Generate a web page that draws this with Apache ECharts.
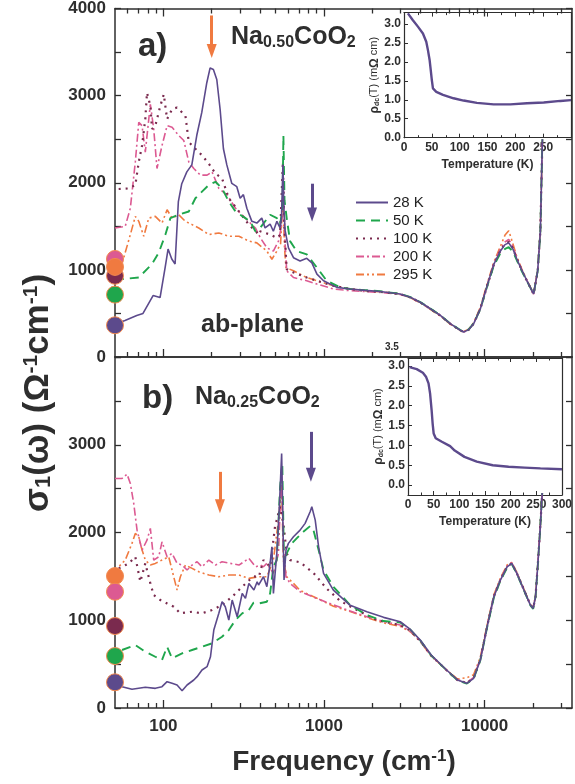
<!DOCTYPE html>
<html><head><meta charset="utf-8">
<script src="https://cdn.jsdelivr.net/npm/echarts@6/dist/echarts.min.js"></script>
<style>html,body{margin:0;padding:0;background:#fff}#c{width:575px;height:784px}</style>
</head><body><div id="c"></div>
<script>
const FF = '"Liberation Sans", Arial, Helvetica, sans-serif';
const names = ['28 K', '50 K', '100 K', '200 K', '295 K'];
const colors = ['#5c4a8c', '#1fa64c', '#7a2a4e', '#dc5a92', '#f07a40'];

// ---- panel a) Na0.50CoO2 : frequency (cm-1) / sigma1 (Ohm-1 cm-1)
const top28F = [50,53.7,57.7,68.3,74.7,86.3,95.4,102.5,107,112.8,118.3,124,130.2,140,150.4,161.5,173.5,186.4,195.5,204.9,215.1,225.6,236.6,248.4,266.8,286.6,300.6,315,331,355.6,382,410,430,462,484,509,533,544,555,563,573,601,646,710,781,841,904,994,1203,1455];
const top28V = [364,400,420,477,500,705,682,1023,1239,1125,1068,1784,1989,2125,2205,2545,2807,3148,3318,3300,3185,2844,2390,2205,1992,1955,1822,1864,1708,1557,1537,1594,1481,1526,1443,1557,1481,1600,2205,1700,1450,1253,1140,1102,1133,1080,951,875,799,781];
const top50F = [50,55.3,70.3,85,93.6,103,110.6,124.7,144,158.3,174,191.9,211,232,255.6,281,324,347,374,400,462,509,533,551,559,568,586,615,676,781,904,1040,1261,1455];
const top50V = [912,894,912,1068,1197,1405,1594,1633,1670,1822,1898,1974,2011,1935,1784,1670,1594,1557,1443,1481,1633,1594,1520,1700,2542,1800,1594,1330,1216,1178,1026,875,799,781];
const top100F = [52.7,60.9,66.9,70.3,73.7,77.2,79.1,83,85,89.1,95.8,100.6,105.5,113.3,121.7,130.8,137.2,144,158.3,174,191.9,211,232,255.6,295.5,340.7,393.5,400,462,509,533,555,566,586,646,781,904,1144,1455];
const top100V = [1928,1935,1974,2239,2428,2731,3034,2883,2617,2655,2883,3015,2731,2844,2864,2807,2769,2466,2390,2315,2219,2106,2049,1822,1670,1519,1405,1443,1405,1367,1400,2239,1500,1008,970,912,875,818,781];
const top200F = [50,57.9,62.3,66.9,70.3,73.7,77.2,83,87.1,91.3,98.1,105.5,113.3,124.7,134,144,154.7,170.1,187.1,201,221.5,249.4,281,324,374,402,441,484,521,543,559,573,586,646,781,904,1144,1455];
const top200V = [1481,1500,1708,2239,2693,2655,2352,2901,2617,2163,2428,2655,2636,2542,2485,2239,2163,2087,2087,2125,1935,1860,1708,1594,1481,1367,1253,1216,1330,1500,1974,1300,989,912,875,837,781,761];
const top295F = [50,53.7,56.7,62.3,66.9,70.3,75.5,81.1,89.1,98.1,105.5,113.3,124.7,137.2,151,166.1,191.9,221.5,255.6,295.5,340.7,382,441,474,509,537,555,568,580,646,781,904,1144,1455];
const top295V = [1034,1026,1140,1405,1614,1557,1386,1594,1614,1537,1690,1594,1633,1557,1519,1481,1405,1424,1386,1386,1330,1310,1216,1122,1216,1300,1860,1250,1026,989,912,875,818,781];
const hfTopF = [1800,2240,2980,3450,3975,4375,5300,6110,7060,7410,7960,8550,9410,10370,11420,12540,13400,14130,15000,15880,17000,18350,20190,21400,22240,22900];
const hfTop28 = [765,752,724,685,628,580,477,383,307,288,314,383,553,818,1065,1216,1290,1310,1240,1122,1000,875,724,989,1443,2500];
const hfTop50 = [768,754,726,687,630,582,479,385,309,290,316,385,550,810,1050,1190,1240,1260,1210,1110,990,870,724,985,1440,2500];
const hfTop100 = [758,748,722,684,627,579,476,382,306,287,313,382,552,815,1060,1220,1300,1320,1250,1125,1000,872,720,985,1440,2500];
const hfTop200 = [752,742,718,682,625,578,475,380,305,286,312,385,560,825,1075,1240,1320,1350,1270,1135,1005,878,722,990,1445,2500];
const hfTop295 = [760,748,724,682,622,574,470,378,302,292,320,395,570,840,1090,1270,1400,1450,1300,1150,1015,880,730,995,1450,2500];
const dcTop = [364, 716, 932, 1125, 1034];

// ---- panel b) Na0.25CoO2
const bot28F = [50,55.3,63.8,77.2,89.1,98.1,105.5,113.3,121.7,130.8,140.5,154.7,162.2,174,187.1,196.5,206.1,221.5,232,243,255.6,268.2,288.1,309.7,324.4,340.7,366.3,383.8,391.3,420,441,462,474,484.4,508.5,528.6,545,558.6,564,580,600.6,645.6,710,763,820,840,882,926,994,1144,1455,1850,2350,2983];
const bot28V = [280,243,213,236,224,243,300,281,262,197,262,319,357,433,471,584,888,1079,1211,1154,1002,1230,1040,1306,1249,1420,1344,1439,1401,1496,1382,1648,1837,1306,1762,2331,2901,1837,1458,1800,1876,1951,2027,2104,2236,2293,2141,1837,1534,1344,1170,1097,1033,983];
const bot50F = [55.3,66.9,77.2,89.1,98.1,105.5,113.3,130.8,151,174,201,232,255.6,281,309.7,340.7,364,393.5,441,462,484,508,533,550,564,586,630,676,744,820,860,926,994,1144,1455,1850,2350,2983];
const bot50V = [661,718,641,584,547,698,566,623,661,698,737,812,888,1002,1079,1116,1200,1192,1211,1306,1609,1686,2521,2787,1648,1762,1876,1933,2008,2073,2027,1800,1572,1382,1173,1059,991,975];
const bot100F = [52.7,60.9,66.9,71.9,77.2,83,87.1,95.8,105.5,116,127.6,151,174,201,232,268.2,309.7,364,393.5,420,462,495.5,533,558.6,586,615,710,860,1040,1261,1680,2136,2983];
const bot100V = [1591,1648,1723,1439,1648,1420,1287,1230,1192,1154,1079,1097,1079,1116,1173,1268,1382,1500,1496,1686,1609,2065,2293,2104,1762,1686,1660,1540,1360,1220,1097,1002,945];
const bot200F = [50,55.3,59.4,62.3,65.4,68.6,73.7,79.1,83,87.1,93.6,98.1,105.5,113.3,121.7,130.8,140.5,151,162.2,174,191.9,211,232,261.8,295.5,340.7,374.6,401.7,420,441,484.4,520.8,545,558.6,580,615,710,904,1144,1455,1850,2350,2983];
const bot200V = [2616,2616,2665,2559,2331,2027,1800,1913,2047,1686,1723,1894,1723,1762,1648,1629,1572,1629,1667,1609,1686,1629,1667,1648,1629,1705,1609,1629,1609,1648,1534,1762,2711,1837,1496,1420,1325,1249,1175,1105,1040,985,945];
const bot295F = [50,52.7,57.9,63.8,66.9,70.3,73.7,77.2,83,89.1,98.1,108,116,121.7,127.6,137.2,151,166.1,191.9,221.5,255.6,295.5,340.7,393.5,441,484.4,520.8,545,558.6,586,645.6,710,904,1144,1455,1850,2350,2983];
const bot295V = [1503,1609,1686,1876,1990,1951,1800,1686,1629,1648,1686,1723,1496,1344,1496,1629,1591,1553,1515,1496,1515,1515,1477,1496,1496,1686,2141,2521,1686,1496,1420,1340,1250,1160,1100,1030,970,930];
const hfBotF = [3450,3975,4650,5800,6780,7750,8550,9410,10370,11420,12540,13810,14750,15880,17580,19280,20060,20750,21470,22150,22840];
const hfBot28 = [895,774,604,433,319,281,338,547,926,1268,1458,1609,1648,1534,1344,1173,1135,1268,1648,2027,2450];
const hfBot50 = [892,770,600,430,316,278,335,545,920,1260,1450,1600,1640,1530,1340,1170,1130,1265,1645,2025,2450];
const hfBot100 = [880,765,598,430,318,284,342,552,930,1270,1460,1610,1650,1536,1346,1175,1138,1270,1650,2030,2450];
const hfBot200 = [872,760,595,432,322,290,350,560,940,1280,1470,1620,1655,1540,1350,1178,1140,1272,1652,2030,2450];
const hfBot295 = [869,758,592,435,330,345,380,580,950,1290,1480,1630,1660,1545,1352,1180,1142,1275,1655,2035,2450];
const dcBot = [293, 592, 934, 1325, 1503];

// arrows: [frequency, start value, end value]
const arrowsTop = [[200, 3920, 3511, '#f07a40'], [843, 1989, 1636, '#5c4a8c']];
const arrowsBot = [[225, 2691, 2300, '#f07a40'], [829, 3147, 2657, '#5c4a8c']];

// insets: rho_dc(T)
const rhoTopT = [7,16,25,34,40,43,46,48,50,52,58,70,89,107,131,161,191,221,251,281,300];
const rhoTopV = [3.28,3.1,2.93,2.75,2.53,2.31,2.05,1.79,1.52,1.3,1.21,1.13,1.04,0.98,0.92,0.88,0.88,0.91,0.93,0.97,0.99];
const rhoBotT = [3,17,29,35,40,43,46,48,50,54,66,82,91,110,134,165,196,227,258,300];
const rhoBotV = [2.97,2.92,2.83,2.73,2.56,2.31,1.89,1.55,1.3,1.18,1.09,0.98,0.87,0.71,0.59,0.5,0.46,0.44,0.42,0.4];

const xMajor = [100, 1000, 10000];
const xMinor = [60,70,80,90,200,300,400,500,600,700,800,900,2000,3000,4000,5000,6000,7000,8000,9000,20000,30000];
const rhoTicks = [0, 0.5, 1, 1.5, 2, 2.5, 3];

// ------------------------------------------------------------------
const AC = '#2e2e2e';
const pts = (f, v) => f.map((x, i) => [x, v[i]]);
const lineStyles = [
  {width: 1.6, type: 'solid'},
  {width: 1.9, type: [9, 6]},
  {width: 2.2, type: [2, 5]},
  {width: 1.6, type: [8, 3, 2, 3]},
  {width: 1.6, type: [8, 3, 2, 3, 2, 3]}
];
const topData = [pts(top28F.concat(hfTopF), top28V.concat(hfTop28)), pts(top50F.concat(hfTopF), top50V.concat(hfTop50)),
  pts(top100F.concat(hfTopF), top100V.concat(hfTop100)), pts(top200F.concat(hfTopF), top200V.concat(hfTop200)),
  pts(top295F.concat(hfTopF), top295V.concat(hfTop295))];
const botData = [pts(bot28F.concat(hfBotF), bot28V.concat(hfBot28)), pts(bot50F.concat(hfBotF), bot50V.concat(hfBot50)),
  pts(bot100F.concat(hfBotF), bot100V.concat(hfBot100)), pts(bot200F.concat(hfBotF), bot200V.concat(hfBot200)),
  pts(bot295F.concat(hfBotF), bot295V.concat(hfBot295))];

function logX(grid, pos, ticks, len, showLine, labels) {
  return {
    gridIndex: grid, type: 'log', logBase: 10, min: 50, max: 35000, position: pos,
    axisLine: {show: showLine, onZero: false, lineStyle: {color: AC, width: 1.5}},
    axisTick: {show: ticks.length > 0, inside: true, length: len, customValues: ticks.length ? ticks : undefined, lineStyle: {color: AC, width: 1.3}},
    axisLabel: labels ? {show: true, customValues: xMajor, formatter: v => String(Math.round(v)), fontSize: 17, fontWeight: 'bold', fontFamily: FF, color: AC, margin: 10} : {show: false},
    splitLine: {show: false}, minorTick: {show: false}
  };
}
function mainY(grid, pos, labels, hideTop) {
  return {
    gridIndex: grid, type: 'value', min: 0, max: 4000, interval: 500, position: pos,
    axisLine: {show: true, onZero: false, lineStyle: {color: AC, width: 1.5}},
    axisTick: {show: true, inside: true, length: 6, lineStyle: {color: AC, width: 1.3}},
    axisLabel: labels ? {show: true, formatter: v => (v % 1000 === 0 && !(hideTop && v === 4000)) ? String(v) : '', fontSize: 17, fontWeight: 'bold', fontFamily: FF, color: AC, margin: 9} : {show: false},
    splitLine: {show: false}
  };
}
function insetX(grid, pos, labels, show300) {
  return {
    gridIndex: grid, type: 'value', min: 0, max: 300, interval: 50, position: pos,
    axisLine: {show: true, onZero: false, lineStyle: {color: AC, width: 1.2}},
    axisTick: {show: true, inside: true, length: 4, lineStyle: {color: AC}},
    minorTick: {show: true, splitNumber: 2, length: 2.5, lineStyle: {color: AC}},
    axisLabel: labels ? {show: true, formatter: v => (v < 300 || show300) ? String(v) : '', fontSize: 12, fontWeight: 'bold', fontFamily: FF, color: AC, margin: 4} : {show: false},
    name: labels ? 'Temperature (K)' : '', nameLocation: 'middle', nameGap: 21,
    nameTextStyle: {fontSize: 12, fontWeight: 'bold', fontFamily: FF, color: AC},
    splitLine: {show: false}
  };
}
function insetY(grid, pos, labels, min, max) {
  return {
    gridIndex: grid, type: 'value', min: min, max: max, position: pos,
    axisLine: {show: true, onZero: false, lineStyle: {color: AC, width: 1.2}},
    axisTick: {show: labels, inside: true, length: 4, customValues: rhoTicks, lineStyle: {color: AC}},
    axisLabel: labels ? {show: true, customValues: rhoTicks, formatter: v => v.toFixed(1), fontSize: 12, fontWeight: 'bold', fontFamily: FF, color: AC, margin: 3} : {show: false},
    name: labels ? '{b|ρ}{s|dc}{n|(T) (m}{b|Ω}{n| cm)}' : '', nameLocation: 'middle', nameGap: 17, nameRotate: 90,
    nameTextStyle: {color: AC, rich: {
      b: {fontSize: 12, fontWeight: 'bold', fontFamily: FF, color: AC, lineHeight: 12},
      s: {fontSize: 7, fontWeight: 'bold', fontFamily: FF, color: AC, lineHeight: 3, verticalAlign: 'bottom'},
      n: {fontSize: 11, fontFamily: FF, color: AC, lineHeight: 12}
    }},
    splitLine: {show: false}
  };
}

function lineSeries(data, i, xi, yi, arrows) {
  const s = {
    type: 'line', name: names[i], xAxisIndex: xi, yAxisIndex: yi, data: data,
    symbol: 'none', showSymbol: false, smooth: false, z: 3 + (4 - i) * 0.1,
    lineStyle: Object.assign({color: colors[i]}, lineStyles[i]),
    itemStyle: {color: colors[i]}, emphasis: {disabled: true}
  };
  if (arrows) {
    s.markLine = {
      silent: true, symbol: ['none', 'triangle'], symbolSize: [10, 14], label: {show: false},
      emphasis: {disabled: true}, animation: false,
      data: arrows.map(a => [
        {coord: [a[0], a[1]], lineStyle: {color: a[3], width: 3, type: 'solid'}, itemStyle: {color: a[3]}},
        {coord: [a[0], a[2]]}
      ])
    };
  }
  return s;
}
function dots(vals, xi, yi, order) {
  return {
    type: 'scatter', xAxisIndex: xi, yAxisIndex: yi, clip: false, symbolSize: 17, z: 10, silent: true,
    itemStyle: {borderColor: '#f2894f', borderWidth: 1, opacity: 1},
    data: order.map(i => ({value: [50, vals[i]], itemStyle: {color: colors[i]}}))
  };
}

const series = [];
for (let i = 4; i >= 0; i--) series.push(lineSeries(topData[i], i, 0, 0, i === 0 ? arrowsTop : null));
for (let i = 4; i >= 0; i--) series.push(lineSeries(botData[i], i, 4, 2, i === 0 ? arrowsBot : null));
series.push(dots(dcTop, 0, 0, [0, 1, 2, 3, 4]));
series.push(dots(dcBot, 4, 2, [0, 1, 2, 4, 3]));
series.push({type: 'line', xAxisIndex: 7, yAxisIndex: 4, data: pts(rhoTopT, rhoTopV), symbol: 'none', lineStyle: {color: '#5c4a8c', width: 2.4}, z: 5});
series.push({type: 'line', xAxisIndex: 9, yAxisIndex: 6, data: pts(rhoBotT, rhoBotV), symbol: 'none', lineStyle: {color: '#5c4a8c', width: 2.4}, z: 5});

const sub = (fs, lh) => ({fontSize: fs, fontWeight: 'bold', fontFamily: FF, fill: AC, lineHeight: lh, verticalAlign: 'bottom'});
const big = (fs, lh) => ({fontSize: fs, fontWeight: 'bold', fontFamily: FF, fill: AC, lineHeight: lh});
const formulaRich = {m: big(25, 28), s: sub(16, 4)};

const option = {
  backgroundColor: '#fff',
  animation: false,
  grid: [
    {left: 115, top: 5, width: 457, height: 352},
    {left: 115, top: 357, width: 457, height: 351},
    {left: 404, top: 12.6, width: 167, height: 125.1},
    {left: 408, top: 358, width: 161, height: 137}
  ],
  xAxis: [
    logX(0, 'bottom', xMajor, 8, true, false),
    logX(0, 'bottom', xMinor, 5, false, false),
    logX(0, 'top', xMajor, 8, true, false),
    logX(0, 'top', xMinor, 5, false, false),
    logX(1, 'bottom', xMajor, 8, true, true),
    logX(1, 'bottom', xMinor, 5, false, false),
    logX(1, 'top', [], 0, true, false),
    insetX(2, 'bottom', true, false),
    insetX(2, 'top', false, false),
    insetX(3, 'bottom', true, true),
    insetX(3, 'top', false, false)
  ],
  yAxis: [
    mainY(0, 'left', true, false),
    mainY(0, 'right', false, false),
    mainY(1, 'left', true, true),
    mainY(1, 'right', false, false),
    insetY(2, 'left', true, 0, 3.3),
    insetY(2, 'right', false, 0, 3.3),
    insetY(3, 'left', true, -0.25, 3.2),
    insetY(3, 'right', false, -0.25, 3.2)
  ],
  legend: {
    data: names, orient: 'vertical', left: 350, top: 190, itemWidth: 32, itemHeight: 12, itemGap: 3,
    selectedMode: false, itemStyle: {opacity: 0, borderWidth: 0},
    textStyle: {fontSize: 15, color: '#222', fontFamily: FF}
  },
  series: series,
  graphic: [
    {type: 'text', x: 138, y: 47, style: {text: 'a)', font: 'bold 33px ' + FF, fill: AC, verticalAlign: 'middle', textVerticalAlign: 'middle'}},
    {type: 'text', x: 142, y: 399, style: {text: 'b)', font: 'bold 33px ' + FF, fill: AC, verticalAlign: 'middle', textVerticalAlign: 'middle'}},
    {type: 'text', x: 231, y: 23, style: {text: '{m|Na}{s|0.50}{m|CoO}{s|2}', rich: formulaRich, verticalAlign: 'top', textVerticalAlign: 'top'}},
    {type: 'text', x: 195, y: 383, style: {text: '{m|Na}{s|0.25}{m|CoO}{s|2}', rich: formulaRich, verticalAlign: 'top', textVerticalAlign: 'top'}},
    {type: 'text', x: 201, y: 325, style: {text: 'ab-plane', font: 'bold 25px ' + FF, fill: AC, verticalAlign: 'middle', textVerticalAlign: 'middle'}},
    {type: 'text', x: 385, y: 347, style: {text: '3.5', font: 'bold 10px ' + FF, fill: AC, verticalAlign: 'middle', textVerticalAlign: 'middle'}},
    {type: 'text', x: 38, y: 393, rotation: Math.PI / 2,
      style: {text: '{m|σ}{s|1}{m|(ω) (Ω}{p|-1}{m|cm}{p|-1}{m|)}', align: 'center', textAlign: 'center', verticalAlign: 'middle', textVerticalAlign: 'middle',
        rich: {m: big(35, 34), s: sub(22, 4), p: {fontSize: 21, fontWeight: 'bold', fontFamily: FF, fill: AC, lineHeight: 4, verticalAlign: 'top'}}}},
    {type: 'text', x: 344, y: 762,
      style: {text: '{m|Frequency (cm}{p|-1}{m|)}', align: 'center', textAlign: 'center', verticalAlign: 'middle', textVerticalAlign: 'middle',
        rich: {m: big(28, 28), p: {fontSize: 17, fontWeight: 'bold', fontFamily: FF, fill: AC, lineHeight: 4, verticalAlign: 'top'}}}}
  ]
};
const chart = echarts.init(document.getElementById('c'), null, {renderer: 'canvas'});
chart.setOption(option);
</script>
</body></html>
